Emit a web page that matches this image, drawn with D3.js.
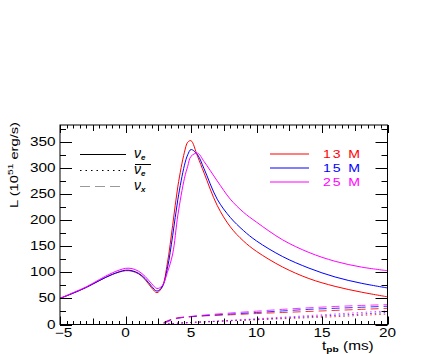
<!DOCTYPE html>
<html>
<head>
<meta charset="utf-8">
<script src="https://cdn.jsdelivr.net/npm/d3@7"></script>
<style>
  body { margin: 0; background: #fff; }
  svg { display: block; font-family: "Liberation Sans", Arial, sans-serif; }
</style>
</head>
<body>
<svg id="chart" width="436" height="354"></svg>
<script>
// nu_e luminosity, 10^51 erg/s
var tE = [-5, -4, -3, -2, -1, 0, 0.5, 1, 1.5, 2, 2.4, 2.8, 3.2, 3.6, 4, 4.5, 4.75, 5, 5.5, 6, 7, 8, 9, 10, 12, 14, 16, 18, 20];
var nue13 = [50, 60, 71, 84, 96, 103, 102, 97, 86, 70, 61, 72, 118, 190, 265, 330, 349, 352, 322, 290, 228, 187, 160, 140, 110, 88, 73, 62, 53];
var nue15 = [50, 60, 71, 84, 96, 104, 103, 98, 88, 73, 64, 72, 108, 170, 240, 305, 325, 335, 325, 298, 240, 205, 180, 160, 130, 108, 91, 79, 70];
var nue25 = [50, 61, 72, 86, 99, 107.5, 107, 102, 92, 78, 69, 74, 100, 135, 210, 280, 303, 322, 328, 312, 275, 240, 215, 196, 162, 138, 121, 110, 103];

// anti nu_e and nu_x
var tX = [-5, 2.5, 3, 3.5, 4, 5, 6, 8, 10, 12, 14, 16, 18, 20];
var anue13 = [0, 0, 0.5, 1.5, 2.5, 4, 5, 7, 9, 11, 13, 15, 17.5, 20];
var anue15 = [0, 0, 0.5, 1.5, 2.5, 4, 5, 7.5, 10, 12.5, 15, 17.5, 20, 23];
var anue25 = [0, 0, 0.3, 1, 2, 3.5, 5, 8, 11, 14, 17, 20, 23, 26];
var nux13 = [0, 0, 5, 10, 13, 15, 16.5, 18.5, 21, 23, 25, 27, 29, 31];
var nux15 = [0, 0, 4, 9, 12, 15, 17, 20, 23, 26, 29, 31, 33, 35];
var nux25 = [0, 0, 3, 8, 12, 15.5, 18, 22, 25.5, 29, 32, 34.5, 36.5, 38];

var masses = ["13 M", "15 M", "25 M"];
var colors = ["#ff0000", "#0000ff", "#ff00ff"];
var xTicks = [-5, 0, 5, 10, 15, 20];
var yTicks = [0, 50, 100, 150, 200, 250, 300, 350];

var svg = d3.select("#chart");
var frame = {left: 60, right: 387.5, top: 125, bottom: 324.5};

var x = d3.scaleLinear().domain([-5, 20]).range([frame.left, frame.right]);
var y = d3.scaleLinear().domain([0, 382]).range([frame.bottom, frame.top]);

// ROOT-like wide lettering: stretch text horizontally
function wideText(parent, px, py, anchor, size, rot){
  return parent.append("text")
    .attr("transform", "translate(" + px + "," + py + ")" + (rot ? " rotate(" + rot + ")" : "") + " scale(1.28,1)")
    .attr("text-anchor", anchor)
    .style("font-size", size + "px");
}

var plot = svg.append("g");

function drawSet(tArr, sets, curve, dash){
  sets.forEach(function(vals, i){
    var pts = tArr.map(function(t, j){ return [t, vals[j]]; });
    plot.append("path")
      .attr("d", d3.line().x(function(d){ return x(d[0]); }).y(function(d){ return y(d[1]); }).curve(curve)(pts))
      .attr("fill", "none")
      .style("stroke", colors[i])
      .attr("stroke-width", 1)
      .attr("stroke-opacity", dash ? 0.8 : 1)
      .attr("stroke-dasharray", dash);
  });
}

drawSet(tX, [nux13, nux15, nux25], d3.curveMonotoneX, "8,5");
drawSet(tX, [anue13, anue15, anue25], d3.curveMonotoneX, "1.5,3");
drawSet(tE, [nue13, nue15, nue25], d3.curveCatmullRom.alpha(0.5), null);

//Frame and ticks
var axes = svg.append("g").attr("stroke", "#000").attr("stroke-width", 1);
axes.append("rect")
  .attr("x", frame.left).attr("y", frame.top)
  .attr("width", frame.right - frame.left).attr("height", frame.bottom - frame.top)
  .attr("fill", "none");

d3.range(-5, 20.01, 0.5).forEach(function(t){
  var len = (Math.abs(t % 5) < 1e-6) ? 8 : (Math.abs(t % 2.5) < 1e-6 ? 6 : 3.5);
  var px = Math.round(x(t)) + 0.5;
  axes.append("line").attr("x1", px).attr("x2", px).attr("y1", frame.bottom).attr("y2", frame.bottom - len);
  axes.append("line").attr("x1", px).attr("x2", px).attr("y1", frame.top).attr("y2", frame.top + len);
});

d3.range(0, 382, 25).forEach(function(v){
  var len = (v % 50 == 0) ? 12 : 6;
  var py = Math.round(y(v)) + 0.5;
  axes.append("line").attr("x1", frame.left).attr("x2", frame.left + len).attr("y1", py).attr("y2", py);
  axes.append("line").attr("x1", frame.right).attr("x2", frame.right - len).attr("y1", py).attr("y2", py);
});

//Tick labels
xTicks.forEach(function(d){
  wideText(svg, x(d) + (d < 0 ? 3.5 : 0), 337, "middle", 12)
    .text(d < 0 ? "\u2212" + Math.abs(d) : d);
});

yTicks.forEach(function(d){
  wideText(svg, 55.5, y(d) + 4, "end", 12).text(d);
});

//Axis titles
var yl = wideText(svg, 18, 165, "middle", 11.5, -90);
yl.append("tspan").text("L (10");
yl.append("tspan").attr("dy", -5).style("font-size", "8px").text("51");
yl.append("tspan").attr("dy", 5).text(" erg/s)");

var xl = wideText(svg, 322, 350, "start", 12);
xl.append("tspan").text("t");
xl.append("tspan").attr("dy", 2).style("font-size", "8px").style("font-weight", "bold").text("pb");
xl.append("tspan").attr("dy", -2).text(" (ms)");

//Flavour legend
var flav = [{dash: null, sub: "e", bar: false}, {dash: "1.5,4", sub: "e", bar: true}, {dash: "10,5", sub: "x", bar: false}];
flav.forEach(function(f, i){
  var ly = 154 + i * 16;
  svg.append("line")
    .attr("x1", 80).attr("x2", i == 2 ? 120 : 126)
    .attr("y1", ly + 0.5).attr("y2", ly + 0.5)
    .style("stroke", i == 2 ? "#999" : "#000")
    .attr("stroke-dasharray", f.dash);
  var t = svg.append("text").attr("x", 134).attr("y", ly + 4)
    .style("font-style", "italic")
    .style("font-size", "14px");
  t.append("tspan").text("\u03bd");
  t.append("tspan").attr("dy", 2).style("font-size", "8px").style("font-weight", "bold").text(f.sub);
  if(f.bar){
    svg.append("line").attr("x1", 135).attr("x2", 151).attr("y1", ly - 5.5).attr("y2", ly - 5.5).style("stroke", "#000");
  }
});

//Mass legend
masses.forEach(function(m, i){
  var ly = 154 + i * 14;
  svg.append("line")
    .attr("x1", 270).attr("x2", 309)
    .attr("y1", ly).attr("y2", ly)
    .style("stroke", colors[i])
    .attr("stroke-width", 1.2);
  wideText(svg, 323, ly + 4, "start", 11)
    .attr("fill", colors[i])
    .style("letter-spacing", "1.5px")
    .text(m);
});
</script>
</body>
</html>
